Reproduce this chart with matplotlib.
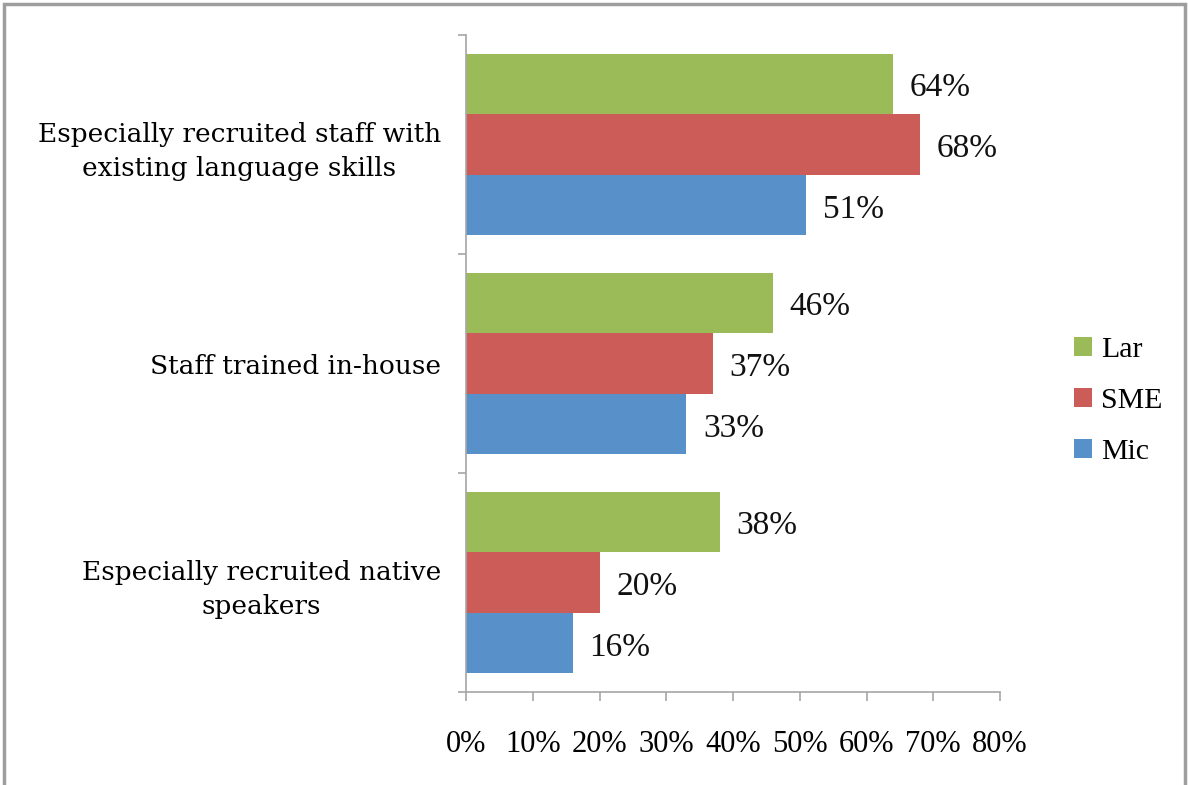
import numpy as np
import matplotlib
matplotlib.use("Agg")
from matplotlib import pyplot as plt
from matplotlib.patches import Rectangle

plt.rcParams['font.family'] = ['Liberation Serif', 'DejaVu Serif']

# categories listed bottom to top
categories = ['Especially recruited native\nspeakers',
              'Staff trained in-house',
              'Especially recruited staff with\nexisting language skills']
lar = [38, 46, 64]
sme = [20, 37, 68]
mic = [16, 33, 51]
series_names = ['Lar', 'SME', 'Mic']
colors = ['#9BBB59', '#CB5C57', '#5891C9']
xticks = [0, 10, 20, 30, 40, 50, 60, 70, 80]

fig = plt.figure(figsize=(11.88, 7.85), dpi=100)
ax = fig.add_axes([466 / 1188, 1 - 692 / 785, 534 / 1188, 657 / 785])

y = np.arange(len(categories))
h = 0.274
step = 0.2785
bars = []
for vals, off, col, name in zip([lar, sme, mic], [step, 0, -step], colors, series_names):
    b = ax.barh(y + off, vals, height=h, color=col, label=name)
    bars.append(b)
    for yi, v in zip(y + off, vals):
        ax.annotate(f'{v}%', (v, yi), xytext=(12, -3), textcoords='offset points',
                    va='center', ha='left', fontsize=24, color='#111111')

ax.set_xlim(0, 80)
ax.set_ylim(-0.5, len(categories) - 0.5)
ax.set_xticks(xticks)
ax.set_xticklabels([f'{t}%' for t in xticks], fontsize=22)
ax.set_yticks(y)
ax.set_yticklabels(categories, fontsize=19, family='DejaVu Serif',
                   linespacing=1.45, multialignment='center')
ax.set_yticks(np.arange(-0.5, len(categories)), minor=True)

for s in ['top', 'right']:
    ax.spines[s].set_visible(False)
for s in ['left', 'bottom']:
    ax.spines[s].set_color('#A6A6A6')
    ax.spines[s].set_linewidth(1.2)

ax.tick_params(axis='y', which='major', length=0, pad=18)
ax.tick_params(axis='y', which='minor', length=6, width=1.2, color='#A6A6A6', direction='out')
ax.tick_params(axis='x', length=6.5, width=1.2, color='#A6A6A6', direction='out', pad=21)

fig.legend(handles=bars, labels=series_names, loc='center left',
           bbox_to_anchor=(1047 / 1188, 1 - 401 / 785), frameon=False,
           fontsize=21.5, handlelength=0.6, handleheight=0.6, handletextpad=0.3,
           labelspacing=0.85)

# outer frame
fig.patches.append(Rectangle((4, -20), 1181, 801, transform=None, fill=False,
                             edgecolor='#9E9E9E', linewidth=2.5))

fig.savefig('out.png', dpi=100)
